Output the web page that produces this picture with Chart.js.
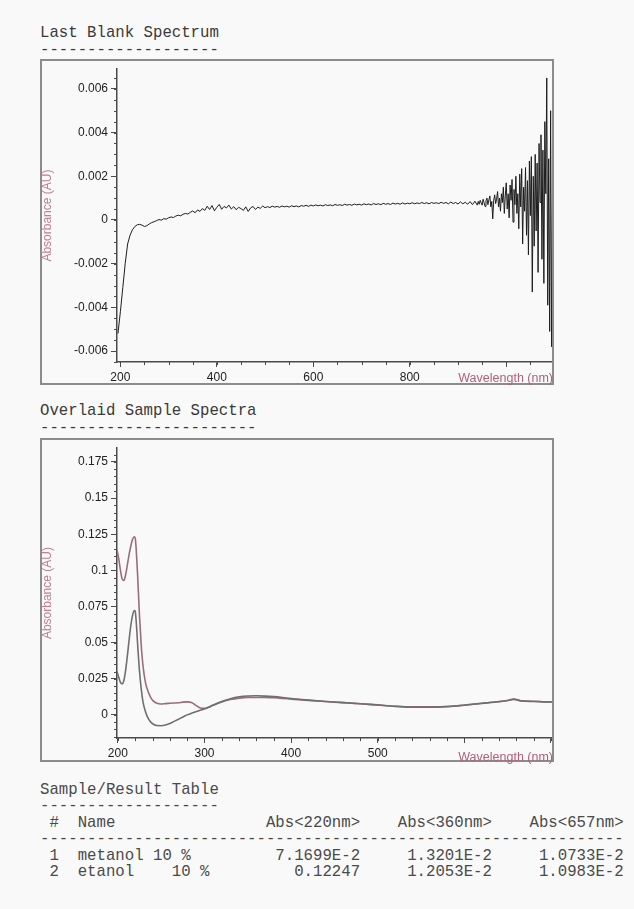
<!DOCTYPE html>
<html>
<head>
<meta charset="utf-8">
<script src="https://cdn.jsdelivr.net/npm/chart.js@4.4.0/dist/chart.umd.min.js"></script>
<style>
  body { margin: 0; background: #f9f9f9; }
  #page { position: relative; width: 634px; height: 909px; overflow: hidden; }
  .mono { position: absolute; left: 40px; font-family: 'Liberation Mono', 'Courier New', monospace;
          font-size: 15.7px; line-height: 17px; color: #3a3a3a; white-space: pre; }
  .table { line-height: 16.4px; color: #4a4a4a; }
  .box { position: absolute; left: 40px; width: 514px; box-sizing: border-box; border: 2px solid #8c8c8c; pointer-events: none; }
  canvas { position: absolute; left: 40px; }
  .xlab { position: absolute; right: 81px; font-family: 'Liberation Sans', Arial, sans-serif;
          font-size: 12.5px; line-height: 14px; color: #b0607a; }
</style>
</head>
<body>
<div id="page">
  <div class="mono" style="top:25px">Last Blank Spectrum
-------------------</div>
  <canvas id="blank" width="514" height="326" style="top:59px"></canvas>
  <div class="box" style="top:59px;height:326px"></div>
  <div class="xlab" style="top:371px">Wavelength (nm)</div>

  <div class="mono" style="top:403px">Overlaid Sample Spectra
-----------------------</div>
  <canvas id="samples" width="514" height="324" style="top:438px"></canvas>
  <div class="box" style="top:438px;height:324px"></div>
  <div class="xlab" style="top:750px">Wavelength (nm)</div>

  <div class="mono table" style="top:782px">Sample/Result Table
-------------------
 #  Name                Abs&lt;220nm&gt;    Abs&lt;360nm&gt;    Abs&lt;657nm&gt;
--------------------------------------------------------------
 1  metanol 10 %         7.1699E-2     1.3201E-2     1.0733E-2
 2  etanol    10 %         0.12247     1.2053E-2     1.0983E-2</div>
</div>

<script>
// blank (baseline) spectrum
const blankWl = [
  195,200,205,210,215,220,225,230,235,240,
  245,250,255,260,265,270,275,280,285,290,
  295,300,305,310,315,320,325,330,335,340,
  345,350,355,360,365,370,375,380,385,390,
  395,400,405,410,415,420,425,430,435,440,
  445,450,455,460,465,470,475,480,485,490,
  495,500,505,510,515,520,525,530,535,540,
  545,550,555,560,565,570,575,580,585,590,
  595,600,605,610,615,620,625,630,635,640,
  645,650,655,660,665,670,675,680,685,690,
  695,700,705,710,715,720,725,730,735,740,
  745,750,755,760,765,770,775,780,785,790,
  795,800,805,810,815,820,825,830,835,840,
  845,850,855,860,865,870,875,880,885,890,
  895,900,905,910,915,920,925,930,935,940,
  942,944,946,948,950,952,954,956,958,960,
  962,964,966,968,970,972,974,976,978,980,
  982,984,986,988,990,992,994,996,998,1000,
  1002,1004,1006,1008,1010,1012,1014,1016,1018,1020,
  1022,1024,1026,1028,1030,1032,1034,1036,1038,1040,
  1042,1044,1046,1048,1050,1052,1054,1056,1058,1060,
  1062,1064,1066,1068,1070,1072,1074,1076,1078,1080,
  1082,1084,1086,1088,1090,1092,1094,1096,1098
];
const blankAbs = [
  -0.0052,-0.0042,-0.0031,-0.0020,-0.0011,-0.0007,-0.00045,-0.0003,-0.00022,-0.0002,
  -0.00024,-0.0003,-0.00026,-0.00018,-0.00012,-0.00008,-0.00003,0.00002,-0.00001,0.00006,
  0.00004,0.0001,0.00014,0.00011,0.00018,0.00022,0.00019,0.00026,0.0003,0.00027,
  0.00035,0.00041,0.00033,0.00046,0.00039,0.00052,0.00044,0.00063,0.00048,0.00066,
  0.00042,0.00058,0.00071,0.00049,0.00062,0.00055,0.00068,0.0005,0.00061,0.00047,
  0.00058,0.00052,0.00044,0.0006,0.00039,0.00055,0.00062,0.00048,0.00059,0.00053,
  0.00064,0.00056,0.00061,0.00057,0.00063,0.00059,0.00062,0.00058,0.00064,0.0006,
  0.00063,0.00059,0.00065,0.00061,0.00064,0.0006,0.00066,0.00063,0.00067,0.00062,
  0.00068,0.00064,0.00069,0.00065,0.00068,0.00064,0.0007,0.00066,0.00069,0.00065,
  0.00071,0.00067,0.0007,0.00066,0.00072,0.00068,0.00071,0.00067,0.00073,0.00069,
  0.00072,0.00068,0.00074,0.0007,0.00073,0.00069,0.00075,0.00071,0.00074,0.0007,
  0.00076,0.00072,0.00075,0.00071,0.00077,0.00073,0.00076,0.00072,0.00078,0.00073,
  0.00077,0.00074,0.00079,0.00074,0.00078,0.00075,0.0008,0.00075,0.00079,0.00074,
  0.0008,0.00076,0.00079,0.00075,0.00081,0.00076,0.0008,0.00074,0.00082,0.00075,
  0.0008,0.00073,0.00083,0.00074,0.00081,0.00072,0.00084,0.0007,0.00086,0.00068,
  0.00085,0.00072,0.0009,0.00078,0.00068,0.00095,0.0008,0.00062,0.00088,0.001,
  0.0007,0.00092,0.0011,0.0006,0.00085,0.00005,0.0009,0.00115,0.00075,0.00095,
  0.0013,0.0006,0.001,0.0004,0.0012,0.0008,0.0015,0.0003,0.0011,0.0017,
  0.0005,0.0012,0.0001,0.0016,0.0009,0.00185,-0.0001,0.0014,0.0007,0.002,
  0.0003,0.0012,-0.0004,0.0021,0.0006,0.00235,-0.0011,0.0015,0.0004,0.0024,
  -0.0007,0.0018,-0.0016,0.0027,0.0002,0.0029,-0.0033,0.002,-0.0012,0.003,
  -0.0005,0.0026,-0.0024,0.0035,0.0008,0.0039,-0.0018,0.0032,-0.0029,0.0045,
  0.0012,0.0065,-0.0039,0.0028,-0.0051,0.005,-0.0058,0.0015,-0.0009
];
const blankXTicks = [200, 400, 600, 800, 1000];
const blankYTicks = [-0.006, -0.004, -0.002, 0, 0.002, 0.004, 0.006];

// overlaid sample spectra
const sampleWl = [
  199,201,203,205,207,209,211,213,215,217,
  219,220,221,223,225,227,229,232,235,238,
  241,245,250,255,260,265,270,275,280,285,
  290,295,300,305,310,320,330,340,350,360,
  370,380,390,400,420,440,460,480,500,520,
  540,560,580,600,620,640,650,657,665,680,
  700,703
];
const metanolAbs = [
  0.030,0.026,0.0225,0.0215,0.024,0.031,0.041,0.052,0.062,0.069,
  0.0722,0.071699,0.066,0.047,0.030,0.018,0.009,0.002,-0.0025,-0.005,
  -0.0065,-0.0074,-0.0075,-0.0070,-0.0060,-0.0045,-0.0030,-0.0015,0.0000,0.0012,
  0.0022,0.0032,0.0040,0.0052,0.0066,0.0092,0.0112,0.0125,0.0131,0.013201,
  0.0130,0.0126,0.0120,0.0113,0.0102,0.0093,0.0085,0.0077,0.0068,0.0059,
  0.0053,0.0053,0.0057,0.0067,0.0079,0.0091,0.0099,0.010733,0.0097,0.0093,
  0.0089,0.0089
];
const etanolAbs = [
  0.114,0.108,0.100,0.094,0.093,0.097,0.104,0.111,0.117,0.1215,
  0.1232,0.12247,0.116,0.094,0.068,0.048,0.034,0.022,0.016,0.012,
  0.0095,0.0080,0.0075,0.0078,0.0080,0.0082,0.0084,0.0088,0.0090,0.0086,
  0.0066,0.0048,0.0045,0.0055,0.0068,0.0090,0.0106,0.0116,0.0121,0.012053,
  0.0120,0.0118,0.0114,0.0109,0.0100,0.0092,0.0085,0.0077,0.0069,0.0060,
  0.0055,0.0055,0.0058,0.0068,0.0080,0.0092,0.0100,0.010983,0.0098,0.0094,
  0.0090,0.0090
];
const sampleXTicks = [200, 300, 400, 500, 600, 700];
const sampleYTicks = [0, 0.025, 0.05, 0.075, 0.1, 0.125, 0.15, 0.175];

const axisColor = '#4a4a4a';
const tickFont = { family: "'Liberation Sans', Arial, sans-serif", size: 12 };

// small unlabeled ticks between the labelled ones
const minorTicks = {
  id: 'minorTicks',
  afterDraw(chart, args, opts) {
    const { ctx, chartArea, scales } = chart;
    ctx.save();
    ctx.strokeStyle = axisColor;
    ctx.lineWidth = 1;
    ctx.beginPath();
    const xs = scales.x, ys = scales.y;
    for (let i = Math.ceil(xs.min / opts.x); i * opts.x <= xs.max; i++) {
      const px = Math.round(xs.getPixelForValue(i * opts.x)) + 0.5;
      ctx.moveTo(px, chartArea.bottom);
      ctx.lineTo(px, chartArea.bottom + 3);
    }
    for (let i = Math.ceil(ys.min / opts.y); i * opts.y <= ys.max; i++) {
      const py = Math.round(ys.getPixelForValue(i * opts.y)) + 0.5;
      ctx.moveTo(chartArea.left - 3, py);
      ctx.lineTo(chartArea.left, py);
    }
    ctx.stroke();
    ctx.restore();
  }
};

function toPoints(xs, ys) {
  return xs.map((x, i) => ({ x: x, y: ys[i] }));
}

function spectrumChart(id, datasets, x, y, minor) {
  return new Chart(document.getElementById(id), {
    type: 'line',
    data: { datasets: datasets },
    options: {
      responsive: false,
      animation: false,
      events: [],
      layout: { padding: 0 },
      plugins: { legend: { display: false }, tooltip: { enabled: false }, minorTicks: minor },
      elements: { point: { radius: 0 } },
      scales: {
        x: {
          type: 'linear', min: x.min, max: x.max,
          afterFit: s => { s.height = x.height; },
          afterBuildTicks: s => { s.ticks = x.ticks.map(v => ({ value: v })); },
          border: { display: true, color: axisColor, width: 1.5 },
          grid: { drawOnChartArea: false, tickLength: 5, color: axisColor },
          ticks: {
            color: '#222', font: tickFont, padding: 3, maxRotation: 0, autoSkip: false,
            callback: v => (v >= x.lastLabel ? '' : String(v))
          }
        },
        y: {
          min: y.min, max: y.max,
          afterFit: s => { s.width = 77; },
          afterBuildTicks: s => { s.ticks = y.ticks.map(v => ({ value: v })); },
          border: { display: true, color: axisColor, width: 1.5 },
          grid: { drawOnChartArea: false, tickLength: 6, color: axisColor },
          title: {
            display: true, text: 'Absorbance (AU)', color: '#c07d95',
            font: { family: "'Liberation Sans', Arial, sans-serif", size: 12 },
            padding: { top: 0, bottom: 0 }
          },
          ticks: {
            color: '#222', font: tickFont, padding: 3,
            callback: v => String(parseFloat(v.toFixed(4)))
          }
        }
      }
    },
    plugins: [minorTicks]
  });
}

spectrumChart('blank', [{
  data: toPoints(blankWl, blankAbs),
  borderColor: '#1e1e1e', borderWidth: 1, tension: 0
}], { min: 193, max: 1099, ticks: blankXTicks, height: 23, lastLabel: 1000 },
   { min: -0.0065, max: 0.0069, ticks: blankYTicks },
   { x: 50, y: 0.0005 });

spectrumChart('samples', [{
  label: 'metanol 10 %',
  data: toPoints(sampleWl, metanolAbs),
  borderColor: '#6f6f6f', borderWidth: 1.6, cubicInterpolationMode: 'monotone'
}, {
  label: 'etanol 10 %',
  data: toPoints(sampleWl, etanolAbs),
  borderColor: '#9a6c7c', borderWidth: 1.6, cubicInterpolationMode: 'monotone'
}], { min: 199, max: 703, ticks: sampleXTicks, height: 24, lastLabel: 600 },
   { min: -0.016, max: 0.1845, ticks: sampleYTicks },
   { x: 20, y: 0.005 });
</script>
</body>
</html>
